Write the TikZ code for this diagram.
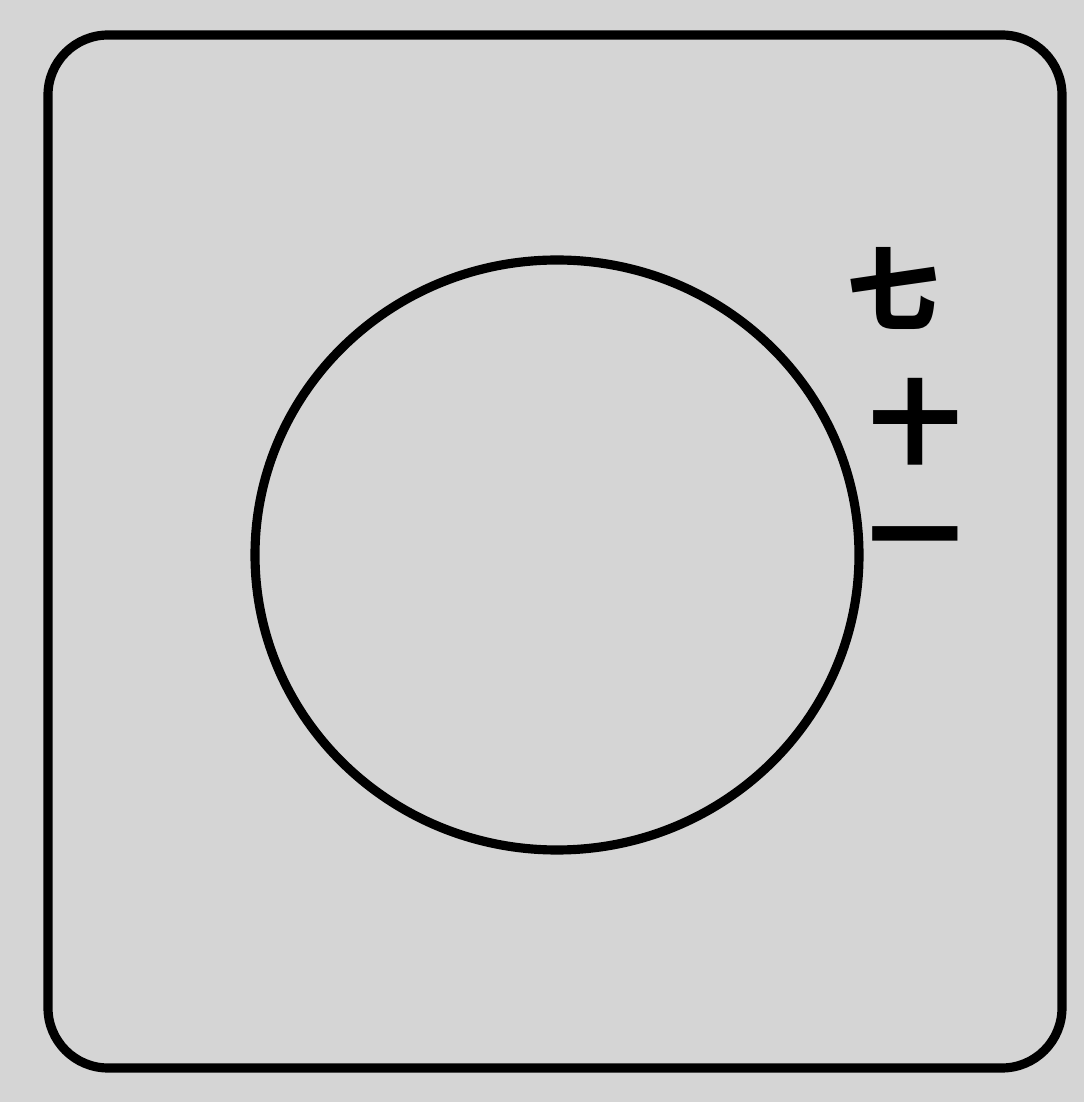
\documentclass[tikz,border=0pt]{standalone}
\usepackage{fontspec}
\usepackage{xcolor}
\newfontfamily\cjk{Noto Sans CJK SC}
\usetikzlibrary{positioning}
\definecolor{paper}{HTML}{D5D5D5}

\begin{document}
\begin{tikzpicture}[x=0.01cm, y=0.01cm, line width=2.6pt,
  glyph/.style={font=\cjk\bfseries\fontsize{26}{26}\selectfont, inner sep=0pt}]

% paper
\fill[paper] (0,0) rectangle (1084,1102);
\useasboundingbox (0,0) rectangle (1084,1102);

% frame and disc
\draw[rounded corners=0.6cm] (48,34) rectangle (1062,1067);
\draw (557,547) ellipse [x radius=302, y radius=295];

% label, written top to bottom
\node[glyph] (seven) at (893,814) {七};
\node[glyph] (ten)   at (915,680) {十};
\node[glyph] (one)   at (915,554) {一};

\end{tikzpicture}
\end{document}
